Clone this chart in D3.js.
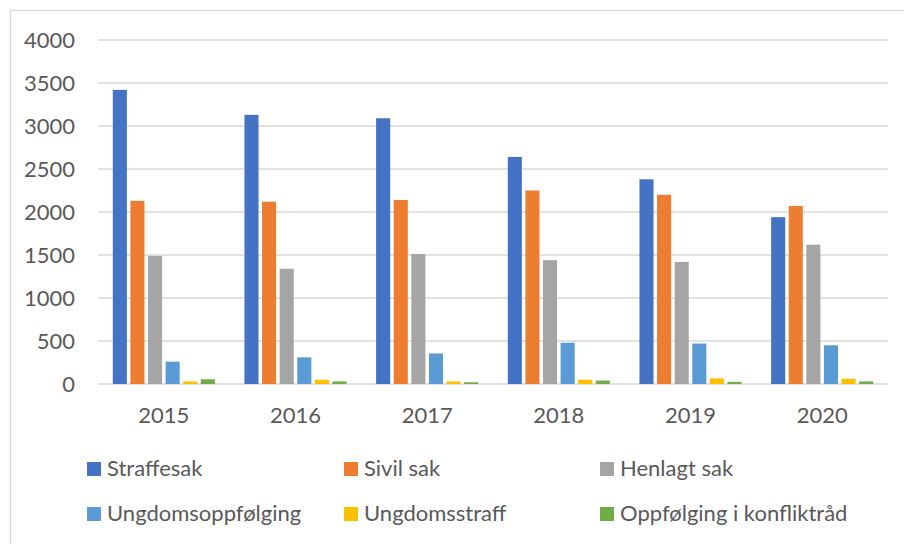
<!DOCTYPE html>
<html>
<head>
<meta charset="utf-8">
<script src="https://cdn.jsdelivr.net/npm/d3@7"></script>
<style>
  body { margin: 0; background: #fff; }
  text { font-family: Lato, "Open Sans", sans-serif; fill: #595959; }
</style>
</head>
<body>
<svg id="chart" width="904" height="544"></svg>
<script>
// data
var years = ["2015", "2016", "2017", "2018", "2019", "2020"];
var series = ["Straffesak", "Sivil sak", "Henlagt sak", "Ungdomsoppfølging", "Ungdomsstraff", "Oppfølging i konfliktråd"];
var colors = ["#4472C4", "#ED7D31", "#A5A5A5", "#5B9BD5", "#FFC000", "#70AD47"];
var straffesak = [3420, 3130, 3090, 2640, 2380, 1940];
var sivilSak = [2130, 2120, 2140, 2250, 2200, 2070];
var henlagtSak = [1490, 1340, 1512, 1440, 1420, 1620];
var ungdomsoppfolging = [260, 310, 355, 480, 470, 450];
var ungdomsstraff = [30, 50, 30, 50, 65, 60];
var konfliktrad = [55, 30, 20, 40, 25, 30];
var yTicks = [0, 500, 1000, 1500, 2000, 2500, 3000, 3500, 4000];

document.addEventListener("DOMContentLoaded", draw);

function draw() {
	var values = [straffesak, sivilSak, henlagtSak, ungdomsoppfolging, ungdomsstraff, konfliktrad];
	var table = years.map((yr, i) => ({year: yr, vals: series.map((s, j) => ({key: s, v: values[j][i], c: colors[j]}))}));

	var svg = d3.select("#chart");

	// chart frame
	svg.append("rect")
	   .attr("x", 10.5).attr("y", 10.5)
	   .attr("width", 1000).attr("height", 1000)
	   .style("fill", "none").style("stroke", "#D9D9D9").style("stroke-width", 1.5);

	var pLeft = 98, pRight = 888, pTop = 40, pBottom = 384;

	var y = d3.scaleLinear().domain([0, 4000]).range([pBottom, pTop]);
	var x0 = d3.scaleBand().domain(years).range([pLeft, pRight]).padding(0);
	var x1 = d3.scaleBand().domain(series).range([0, x0.bandwidth()])
		.paddingInner(0.2).paddingOuter(0.84);

	// gridlines
	svg.append("g")
	   .selectAll("line")
	   .data(yTicks)
	   .enter()
	   .append("line")
	   .attr("x1", pLeft).attr("x2", pRight)
	   .attr("y1", d => y(d))
	   .attr("y2", d => y(d))
	   .style("stroke", "#D9D9D9")
	   .style("stroke-width", 1.5);

	// y axis labels
	svg.append("g")
	   .selectAll("text")
	   .data(yTicks)
	   .enter()
	   .append("text")
	   .attr("x", 75)
	   .attr("y", d => y(d) + 7.5)
	   .attr("text-anchor", "end")
	   .style("font-size", "22px")
	   .text(d => d);

	// bars
	svg.append("g")
	   .selectAll(".year")
	   .data(table)
	   .enter()
	   .append("g")
	   .classed("year", true)
	   .attr("transform", d => "translate(" + x0(d.year) + ",0)")
	   .selectAll("rect")
	   .data(d => d.vals)
	   .enter()
	   .append("rect")
	   .attr("x", d => x1(d.key))
	   .attr("width", x1.bandwidth())
	   .attr("y", d => y(d.v))
	   .attr("height", d => pBottom - y(d.v))
	   .style("fill", d => d.c);

	// x axis labels
	svg.append("g")
	   .selectAll("text")
	   .data(years)
	   .enter()
	   .append("text")
	   .attr("x", d => x0(d) + x0.bandwidth() / 2)
	   .attr("y", 423)
	   .attr("text-anchor", "middle")
	   .style("font-size", "22px")
	   .text(d => d);

	// legend
	var legX = [87, 344, 600], legY = [469, 514];
	var leg = svg.append("g")
	   .selectAll("g")
	   .data(series)
	   .enter()
	   .append("g")
	   .attr("transform", (d, i) => "translate(" + legX[i % 3] + "," + legY[Math.floor(i / 3)] + ")");
	leg.append("rect")
	   .attr("x", 0).attr("y", -7)
	   .attr("width", 14).attr("height", 14)
	   .style("fill", (d, i) => colors[i]);
	leg.append("text")
	   .attr("x", 20).attr("y", 7)
	   .style("font-size", "22px")
	   .text(d => d);
}
</script>
</body>
</html>
